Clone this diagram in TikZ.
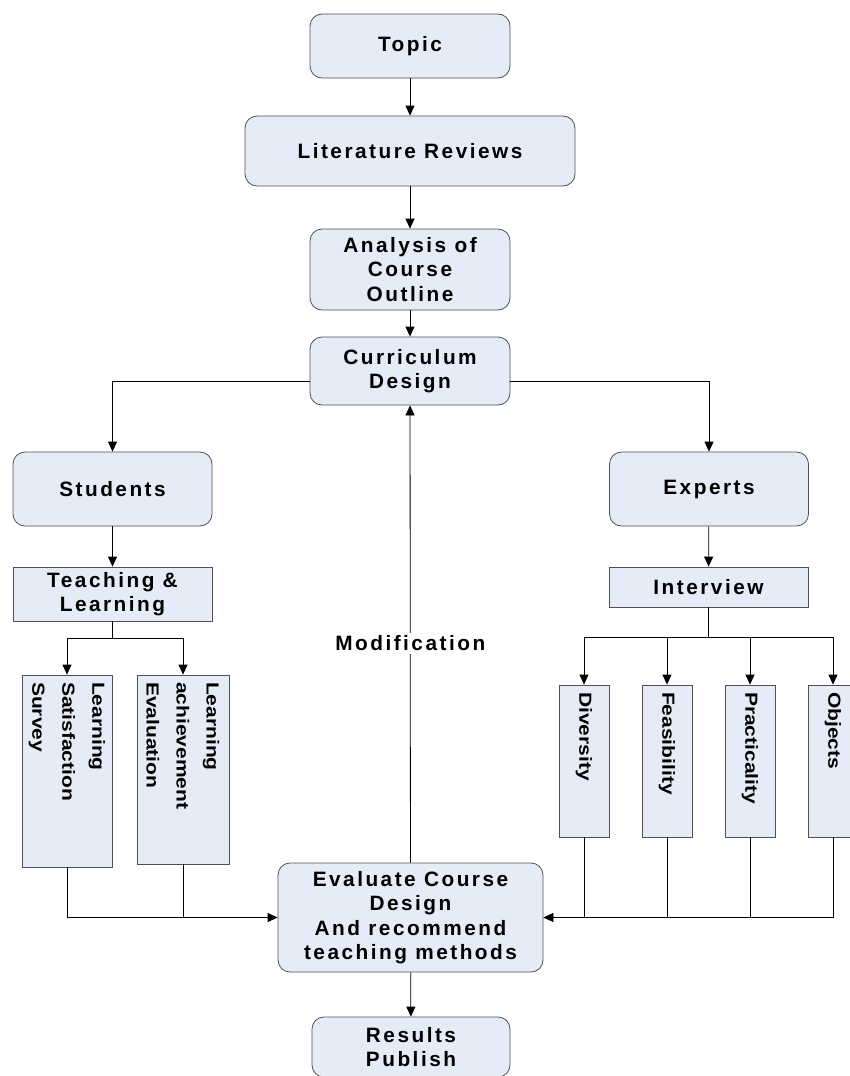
\documentclass[tikz,border=0pt]{standalone}
\usepackage{fontspec}
\setmainfont{Liberation Sans}
\newfontfamily\boxfont{Liberation Sans}[LetterSpace=12]
\newfontfamily\sidefont{Liberation Sans}[FakeStretch=1.2]
\usetikzlibrary{arrows.meta, positioning}
\definecolor{boxfill}{RGB}{230,236,247}
\definecolor{boxline}{RGB}{80,80,80}

\begin{document}
\begin{tikzpicture}[x=1pt, y=-1pt, line width=0.8pt,
	rbox/.style={draw=boxline, fill=boxfill, rounded corners=12pt, align=center, inner sep=2pt, font=\boxfont\bfseries\fontsize{20.8}{24.5}\selectfont},
	sbox/.style={draw=boxline, fill=boxfill, align=center, inner sep=2pt, font=\boxfont\bfseries\fontsize{20.8}{24.5}\selectfont},
	vbox/.style={draw=boxline, fill=boxfill, rotate=-90, align=left, inner xsep=7pt, inner ysep=2pt, font=\sidefont\bfseries\fontsize{17.5}{30}\selectfont},
	link/.style={-{Triangle[length=10pt, width=9pt]}}]
	\useasboundingbox (0,0) rectangle (849,1076);

	\node[rbox, minimum width=200, minimum height=64] (topic) at (410,46) {Topic};
	\node[rbox, minimum width=330, minimum height=70] (lit) at (410,151) {Literature Reviews};
	\node[rbox, minimum width=200, minimum height=81] (outline) at (410,269.5) {Analysis of\\Course\\Outline};
	\node[rbox, minimum width=200, minimum height=68] (design) at (410,371) {Curriculum\\Design};
	\node[rbox, minimum width=199, minimum height=74] (students) at (112.5,489) {Students};
	\node[rbox, minimum width=199, minimum height=74] (experts) at (709,489) {Experts};
	\node[sbox, minimum width=199, minimum height=54] (teach) at (112.5,594) {Teaching \&\\Learning};
	\node[sbox, minimum width=199, minimum height=40] (interview) at (708.5,587) {Interview};
	\node[vbox, minimum height=90, text width=178pt] (survey) at (67,771) {Learning\\Satisfaction\\Survey};
	\node[vbox, minimum height=92, text width=175pt] (achieve) at (183,769.5) {Learning\\achievement\\Evaluation};
	\foreach \name/\word/\px in {diversity/Diversity/584, feasibility/Feasibility/667, practicality/Practicality/750, objects/Objects/833}
		\node[vbox, minimum height=50, text width=138pt] (\name) at (\px,761) {\word};
	\node[rbox, minimum width=265, minimum height=109] (evaluate) at (410.5,917.5) {Evaluate Course\\Design\\And recommend\\teaching methods};
	\node[rbox, minimum width=198, minimum height=60] (results) at (411,1047) {Results\\Publish};

	\draw[link] (topic) -- (lit);
	\draw[link] (lit) -- (outline);
	\draw[link] (outline) -- (design);
	\draw[link] ([yshift=-10pt]design.west) -| (students);
	\draw[link] ([yshift=-10pt]design.east) -| (experts);
	\draw[link] (students) -- (teach);
	\draw[link] (experts) -- (interview);

	\coordinate (tsplit) at (112.5,638);
	\draw (teach) -- (tsplit);
	\draw[link] (tsplit) -| (survey);
	\draw[link] (tsplit) -| (achieve);

	\coordinate (isplit) at (708.5,637);
	\draw (interview) -- (isplit);
	\foreach \name in {diversity, feasibility, practicality, objects}
		\draw[link] (isplit) -| (\name);

	\draw[link] (survey) |- (evaluate);
	\draw (achieve) -- (achieve |- evaluate.west);
	\draw[link] (objects) |- (evaluate);
	\foreach \name in {diversity, feasibility, practicality}
		\draw (\name) -- (\name |- evaluate.east);

	\draw[link] (evaluate) -- node[pos=0.48, fill=white, inner sep=3pt, font=\boxfont\bfseries\fontsize{20.8}{24.5}\selectfont] (modify) {Modification} (design);
	\draw[link] (evaluate) -- (results);
\end{tikzpicture}
\end{document}
